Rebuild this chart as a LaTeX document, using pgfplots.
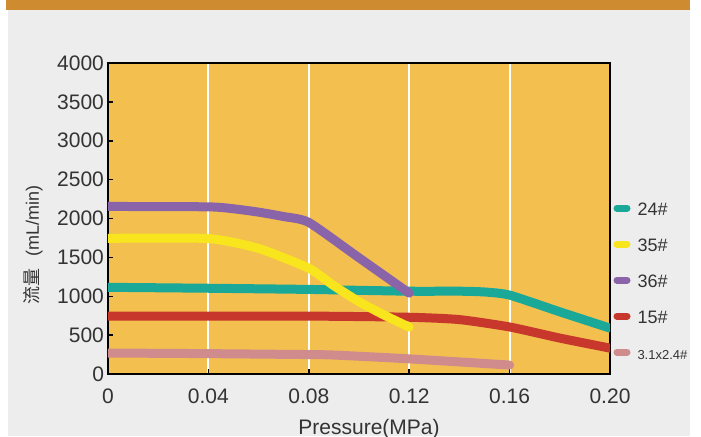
\documentclass[border=0pt]{standalone}
\usepackage{fontspec}
\setmainfont{Liberation Sans}
\newfontfamily\cjk{Noto Sans CJK SC}
\usepackage{pgfplots}
\pgfplotsset{compat=1.18}

\definecolor{panel}{HTML}{EDEDED}
\definecolor{band}{HTML}{CF8B30}
\definecolor{plotbg}{HTML}{F3BF4F}
\definecolor{txt}{HTML}{333333}
\definecolor{c24}{HTML}{1AA898}
\definecolor{c35}{HTML}{F8E51E}
\definecolor{c36}{HTML}{8A64A8}
\definecolor{c15}{HTML}{C7372B}
\definecolor{c31}{HTML}{D08C8C}

\pgfplotsset{
  curve/.style={line width=4.5pt, line cap=round, line join=round, smooth, tension=0.35, no markers, forget plot},
}

\begin{document}
\begin{tikzpicture}[x=1pt,y=1pt]
% page background, 1px = 0.5pt, axis corner at (0,0)
\fill[white] (-54,-31) rectangle (296.5,187);
\fill[panel] (-50,-31) rectangle (291,182);
\fill[band] (-51,182) rectangle (291,187);

\begin{axis}[
    at={(0,0)}, anchor=south west,
    scale only axis,
    width=251pt, height=155.5pt,
    xmin=0, xmax=0.2,
    ymin=0, ymax=4000,
    xtick={0,0.04,0.08,0.12,0.16,0.2},
    xticklabels={0,0.04,0.08,0.12,0.16,0.20},
    ytick={0,500,...,4000},
    tick align=inside,
    xtick pos=bottom, ytick pos=left,
    major tick length=2.5pt,
    tick style={black, line width=0.75pt},
    axis line style={black, line width=0.9pt},
    axis background/.style={fill=plotbg},
    xmajorgrids,
    major grid style={white, line width=1pt},
    ticklabel style={font=\fontsize{10.5}{12}\selectfont, text=txt},
    yticklabel style={/pgf/number format/1000 sep={}, /pgf/number format/assume math mode=true, xshift=1.5pt},
    xticklabel style={yshift=-4pt},
    xlabel={Pressure(MPa)},
    xlabel style={at={(rel axis cs:0.52,0)}, yshift=-27.5pt, anchor=center, font=\fontsize{10.5}{12}\selectfont, text=txt},
    ylabel={{\cjk 流量}\hspace{0.7em}(mL/min)},
    ylabel style={at={(axis description cs:-0.149,0.415)}, anchor=center, font=\fontsize{9}{10}\selectfont, text=txt},
    legend style={at={(rel axis cs:1,0.556)}, anchor=north west, xshift=1.75pt,
        draw=none, fill=none, inner sep=0pt, outer sep=0pt,
        row sep=11pt, column sep=3.5pt,
        font=\fontsize{9}{10}\selectfont, text=txt,
        nodes={inner sep=0pt, text height=7pt, text depth=0pt}},
    legend cell align=left,
    legend image code/.code={\draw[line width=3.5pt, line cap=round] (0pt,0pt) -- (5pt,0pt);},
]
\addlegendimage{c24}
\addlegendentry{24\#}
\addlegendimage{c35}
\addlegendentry{35\#}
\addlegendimage{c36}
\addlegendentry{36\#}
\addlegendimage{c15}
\addlegendentry{15\#}
\addlegendimage{c31}
\addlegendentry{\fontsize{6.5}{7}\selectfont 3.1x2.4\#}

% 3.1x2.4#
\addplot[curve, c31] coordinates {
  (0,270)(0.04,262)(0.08,250)(0.09,244)(0.12,195)(0.16,115)
};
% 15#
\addplot[curve, c15] coordinates {
  (0,745)(0.04,745)(0.08,745)(0.12,730)(0.14,700)(0.16,605)(0.18,462)(0.20,333)
};
% 24#
\addplot[curve, c24] coordinates {
  (0,1115)(0.04,1103)(0.08,1088)(0.12,1065)(0.14,1065)(0.15,1055)(0.16,1015)(0.18,800)(0.20,590)
};
% 35#
\addplot[curve, c35] coordinates {
  (0,1745)(0.04,1742)(0.06,1615)(0.08,1360)(0.09,1135)(0.10,930)(0.11,758)(0.12,603)
};
% 36#
\addplot[curve, c36] coordinates {
  (0,2155)(0.04,2150)(0.05,2125)(0.06,2082)(0.07,2025)(0.08,1950)(0.10,1495)(0.12,1040)
};
\end{axis}
\pgfresetboundingbox
\path (-54,-31) rectangle (296.5,187);
\end{tikzpicture}
\end{document}
